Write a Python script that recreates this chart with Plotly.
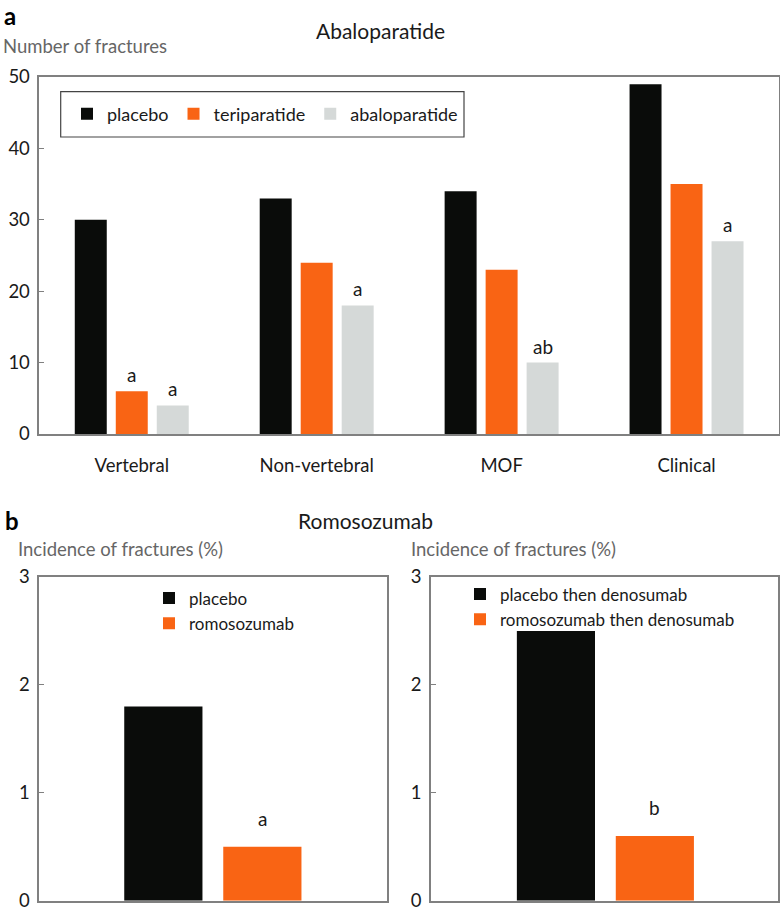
import plotly.graph_objects as go

# ---------------- data ----------------
fracture_types = ["Vertebral", "Non-vertebral", "MOF", "Clinical"]
placebo_counts = [30, 33, 34, 49]
teriparatide_counts = [6, 24, 23, 35]
abaloparatide_counts = [4, 18, 10, 27]
teri_marks = ["a", "", "", ""]
abalo_marks = ["a", "a", "ab", "a"]

rom_groups = ["placebo", "romosozumab"]
rom_values = [1.8, 0.5]
rom_marks = ["", "a"]

deno_groups = ["placebo then denosumab", "romosozumab then denosumab"]
deno_values = [2.5, 0.6]
deno_marks = ["", "b"]

# ---------------- style ----------------
W, H = 780, 913
FONT = "Lato"
BLACK = "#0a0c0a"
ORANGE = "#f96414"
GREY = "#d5d9d8"
AXIS = "#808080"
TITLEGREY = "#666666"
TXT = "#1a1a1a"


def px(x):
    return x / W


def py(y):
    return 1 - y / H


fig = go.Figure()

# Panel a
fig.add_trace(go.Bar(x=fracture_types, y=placebo_counts, name="placebo",
                     marker_color=BLACK, xaxis="x", yaxis="y", legend="legend"))
fig.add_trace(go.Bar(x=fracture_types, y=teriparatide_counts, name="teriparatide",
                     marker_color=ORANGE, xaxis="x", yaxis="y", legend="legend"))
fig.add_trace(go.Bar(x=fracture_types, y=abaloparatide_counts, name="abaloparatide",
                     marker_color=GREY, xaxis="x", yaxis="y", legend="legend"))

BARW = 0.79
# Panel b left
for i, (g, v) in enumerate(zip(rom_groups, rom_values)):
    fig.add_trace(go.Bar(x=[g], y=[v], name=g, marker_color=[BLACK, ORANGE][i],
                         width=BARW, offset=-BARW / 2,
                         xaxis="x2", yaxis="y2", legend="legend2"))
# Panel b right
for i, (g, v) in enumerate(zip(deno_groups, deno_values)):
    fig.add_trace(go.Bar(x=[g], y=[v], name=g, marker_color=[BLACK, ORANGE][i],
                         width=BARW, offset=-BARW / 2,
                         xaxis="x3", yaxis="y3", legend="legend3"))

BARGAP = 0.335
GROUPGAP = 0.22
slot = (1 - BARGAP) / 3

annotations = []
for i, t in enumerate(teri_marks):
    if t:
        annotations.append(dict(x=i, y=teriparatide_counts[i], xref="x", yref="y", text=t,
                                showarrow=False, yanchor="bottom", yshift=3,
                                font=dict(family=FONT, size=19, color=TXT)))
for i, t in enumerate(abalo_marks):
    if t:
        annotations.append(dict(x=i + slot, y=abaloparatide_counts[i], xref="x", yref="y", text=t,
                                showarrow=False, yanchor="bottom", yshift=3,
                                font=dict(family=FONT, size=19, color=TXT)))
for i, t in enumerate(rom_marks):
    if t:
        annotations.append(dict(x=i, y=rom_values[i], xref="x2", yref="y2", text=t,
                                showarrow=False, yanchor="bottom", yshift=15,
                                font=dict(family=FONT, size=19, color=TXT)))
for i, t in enumerate(deno_marks):
    if t:
        annotations.append(dict(x=i, y=deno_values[i], xref="x3", yref="y3", text=t,
                                showarrow=False, yanchor="bottom", yshift=15,
                                font=dict(family=FONT, size=19, color=TXT)))


# text labels
def label(x, y, text, size=19, color=TXT, bold=False, anchor="left"):
    if bold:
        text = "<b>" + text + "</b>"
    annotations.append(dict(x=px(x), y=py(y), xref="paper", yref="paper", text=text,
                            showarrow=False, xanchor=anchor, yanchor="middle",
                            font=dict(family=FONT, size=size, color=color)))


label(2, 16, "a", size=24, color="#000000", bold=True)
label(314, 30, "Abaloparatide", size=21)
label(1, 46, "Number of fractures", size=18.5, color=TITLEGREY)
label(3, 520, "b", size=24, color="#000000", bold=True)
label(296, 520, "Romosozumab", size=21)
label(16, 549, "Incidence of fractures (%)", size=18.5, color=TITLEGREY)
label(409, 549, "Incidence of fractures (%)", size=18.5, color=TITLEGREY)

shapes = [dict(type="rect", xref="paper", yref="paper",
               x0=px(60.7), x1=px(464), y0=py(137), y1=py(91.7),
               line=dict(color="#444444", width=1.2), fillcolor="rgba(0,0,0,0)")]

common_axis = dict(showline=True, linecolor=AXIS, linewidth=1.5, mirror=True,
                   showgrid=False, zeroline=False)
ytick = dict(ticks="inside", ticklen=5, tickcolor=AXIS, tickwidth=1.2,
             tickfont=dict(family=FONT, size=18.5, color=TXT), ticklabelstandoff=4)

fig.update_layout(
    width=W, height=H,
    margin=dict(l=0, r=0, t=0, b=0),
    paper_bgcolor="white", plot_bgcolor="white",
    template="none",
    barmode="group", bargap=BARGAP, bargroupgap=GROUPGAP,
    showlegend=True,
    xaxis=dict(domain=[px(39.3), px(779)], anchor="y", ticks="",
               tickfont=dict(family=FONT, size=18.5, color=TXT), ticklabelstandoff=14,
               **common_axis),
    yaxis=dict(domain=[py(434), py(77)], anchor="x", range=[0, 50], dtick=10,
               **ytick, **common_axis),
    xaxis2=dict(domain=[px(39.3), px(386.7)], anchor="y2", range=[-1.253, 2.256],
                showticklabels=False, ticks="", **common_axis),
    yaxis2=dict(domain=[py(900.7), py(577)], anchor="x2", range=[0, 3], dtick=1,
                **ytick, **common_axis),
    xaxis3=dict(domain=[px(431), px(778)], anchor="y3", range=[-1.263, 2.245],
                showticklabels=False, ticks="", **common_axis),
    yaxis3=dict(domain=[py(900.7), py(577)], anchor="x3", range=[0, 3], dtick=1,
                **ytick, **common_axis),
    legend=dict(orientation="h", x=px(67), y=py(114), xanchor="left", yanchor="middle",
                bgcolor="rgba(0,0,0,0)", borderwidth=0,
                font=dict(family=FONT, size=18, color=TXT), traceorder="normal"),
    legend2=dict(orientation="v", x=px(149), y=py(580.5), xanchor="left", yanchor="top",
                 bgcolor="rgba(0,0,0,0)", borderwidth=0, tracegroupgap=0,
                 font=dict(family=FONT, size=17, color=TXT), traceorder="normal"),
    legend3=dict(orientation="v", x=px(460), y=py(576.5), xanchor="left", yanchor="top",
                 bgcolor="rgba(0,0,0,0)", borderwidth=0, tracegroupgap=0,
                 font=dict(family=FONT, size=17, color=TXT), traceorder="normal"),
    annotations=annotations,
    shapes=shapes,
)

fig.write_html("out.html",
               config={"displayModeBar": False},
               post_script="document.body.style.margin='0px';"
                           "document.body.style.overflow='hidden';")
